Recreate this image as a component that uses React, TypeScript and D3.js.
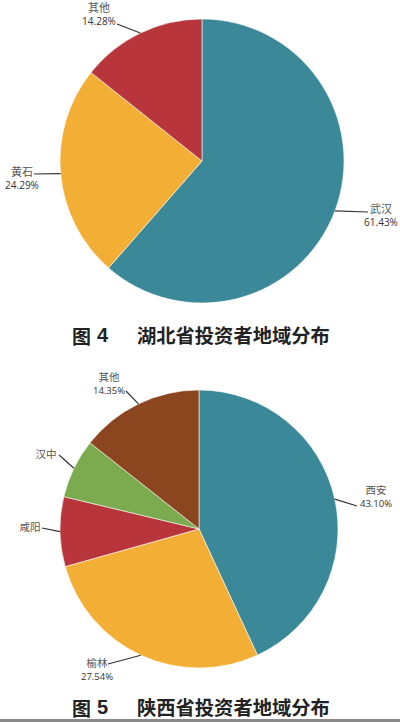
import React from 'react';
import * as d3 from 'd3';

// 图4 湖北省投资者地域分布
const hubeiRegions = ['武汉', '黄石', '其他'];
const hubeiShares = [61.43, 24.29, 14.28];
const hubeiShowPct = [true, true, true];

// 图5 陕西省投资者地域分布 (咸阳 / 汉中 have no printed share, estimated from the slices)
const shaanxiRegions = ['西安', '榆林', '咸阳', '汉中', '其他'];
const shaanxiShares = [43.1, 27.54, 8.1, 6.91, 14.35];
const shaanxiShowPct = [true, true, false, false, true];

const hubeiColors = ['#3b8899', '#f3ae36', '#b8363b'];
const shaanxiColors = ['#3b8899', '#f3ae36', '#b8363b', '#7bab4e', '#8b4620'];

// label placement: text centre (tx, ty) and leader end (ex, ey)
type LabelPos = { tx: number; ty: number; ex: number; ey: number };
const hubeiLabels: LabelPos[] = [
  { tx: 381, ty: 208, ex: 368, ey: 212 },
  { tx: 22, ty: 171, ex: 34, ey: 174 },
  { tx: 99, ty: 7, ex: 117, ey: 24 },
];
const shaanxiLabels: LabelPos[] = [
  { tx: 376, ty: 489, ex: 357, ey: 506 },
  { tx: 97, ty: 662, ex: 108, ey: 664 },
  { tx: 30, ty: 526, ex: 42, ey: 528 },
  { tx: 46, ty: 453, ex: 59, ey: 455 },
  { tx: 109, ty: 376, ex: 126, ey: 391 },
];

const CJK = '"Noto Sans CJK SC", "Noto Sans", sans-serif';

interface PieProps {
  names: string[];
  values: number[];
  showPct: boolean[];
  colors: string[];
  labels: LabelPos[];
  cx: number;
  cy: number;
  r: number;
  fontSize: number;
}

const PieChart: React.FC<PieProps> = ({ names, values, showPct, colors, labels, cx, cy, r, fontSize }) => {
  const pie = d3.pie<number>().sort(null).value((d) => d);
  const arcs = pie(values);
  const arc = d3.arc<d3.PieArcDatum<number>>().innerRadius(0).outerRadius(r);

  return (
    <g>
      <g transform={`translate(${cx},${cy})`}>
        {arcs.map((a, i) => (
          <path key={i} d={arc(a) || ''} fill={colors[i]} stroke="#fff" strokeWidth={0.8} strokeOpacity={0.7} />
        ))}
      </g>
      {arcs.map((a, i) => {
        const mid = (a.startAngle + a.endAngle) / 2;
        const sx = cx + r * Math.sin(mid);
        const sy = cy - r * Math.cos(mid);
        const lab = labels[i];
        return (
          <g key={i}>
            <line x1={sx} y1={sy} x2={lab.ex} y2={lab.ey} stroke="#333" strokeWidth={1.2} />
            <text
              x={lab.tx}
              y={lab.ty}
              textAnchor="middle"
              dominantBaseline="central"
              fontFamily={CJK}
              fontSize={fontSize + 1}
              fill="#555"
            >
              {names[i]}
            </text>
            {showPct[i] && (
              <text
                x={lab.tx}
                y={lab.ty + 14}
                textAnchor="middle"
                dominantBaseline="central"
                fontFamily='"Open Sans", "DejaVu Sans", sans-serif'
                fontSize={fontSize}
                fill="#333"
              >
                {d3.format('.2f')(values[i])}%
              </text>
            )}
          </g>
        );
      })}
    </g>
  );
};

const Title: React.FC<{ num: string; text: string; y: number }> = ({ num, text, y }) => (
  <g fontFamily={CJK} fontWeight={700} fill="#222">
    <text x={72} y={y} dominantBaseline="central" fontSize={19}>图</text>
    <text x={97} y={y} dominantBaseline="central" fontSize={20} fontFamily='"Liberation Sans", Arial, sans-serif'>{num}</text>
    <text x={137} y={y} dominantBaseline="central" fontSize={19.3}>{text}</text>
  </g>
);

export default function App() {
  return (
    <div style={{ position: 'absolute', left: 0, top: 0, width: 400, height: 722, background: '#fff' }}>
      <svg width={400} height={722} style={{ display: 'block' }}>
        <rect width={400} height={722} fill="#fff" />
        <PieChart
          names={hubeiRegions}
          values={hubeiShares}
          showPct={hubeiShowPct}
          colors={hubeiColors}
          labels={hubeiLabels}
          cx={202}
          cy={161}
          r={142}
          fontSize={10}
        />
        <Title num="4" text="湖北省投资者地域分布" y={335} />
        <PieChart
          names={shaanxiRegions}
          values={shaanxiShares}
          showPct={shaanxiShowPct}
          colors={shaanxiColors}
          labels={shaanxiLabels}
          cx={199}
          cy={529}
          r={139}
          fontSize={9.5}
        />
        <Title num="5" text="陕西省投资者地域分布" y={707} />
        <rect x={0} y={719} width={400} height={3} fill="#8a8a8a" />
      </svg>
    </div>
  );
}
